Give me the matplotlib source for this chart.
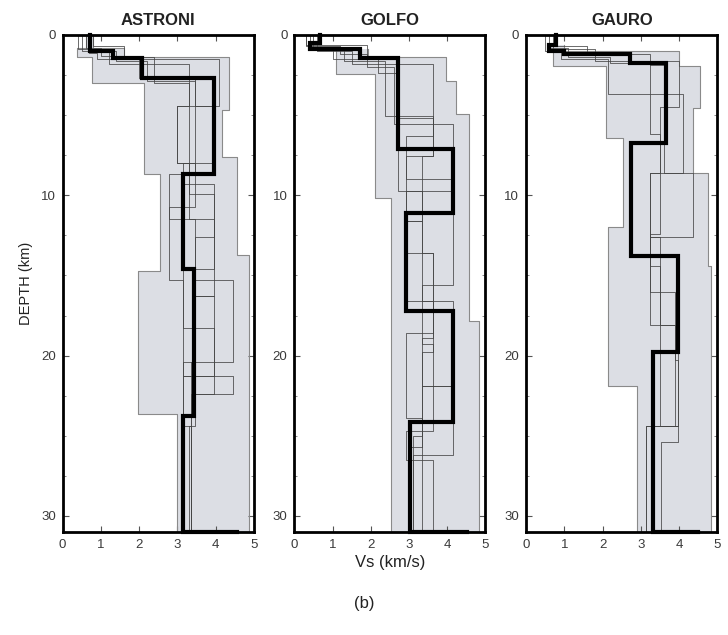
import numpy as np
import matplotlib.pyplot as plt
from matplotlib.ticker import MultipleLocator

plt.rcParams['font.family'] = ['Liberation Sans', 'DejaVu Sans']

# Vs profiles (km/s); each layer runs from its top depth
# down to the next top (last layer down to the bottom of the plot, 31 km)
max_depth = 31.0
sites = ['ASTRONI', 'GOLFO', 'GAURO']

# range of acceptable models (shaded band)
astroni_band_tops = [0.0, 0.8, 1.4, 3.0, 4.65, 7.6, 8.7, 13.7, 14.7, 23.65]
astroni_band_min = [0.6, 0.37, 0.76, 2.12, 2.12, 2.12, 2.55, 2.55, 1.97, 2.99]
astroni_band_max = [0.8, 1.6, 4.35, 4.35, 4.17, 4.57, 4.57, 4.87, 4.87, 4.87]

golfo_band_tops = [0.9, 1.4, 2.46, 2.88, 4.95, 10.15, 17.83]
golfo_band_min = [1.1, 1.1, 2.1, 2.1, 2.1, 2.54, 2.54]
golfo_band_max = [1.93, 3.97, 3.97, 4.23, 4.56, 4.56, 4.84]

gauro_band_tops = [0.6, 1.0, 1.94, 4.54, 6.4, 8.59, 12.0, 14.4, 21.9]
gauro_band_min = [0.55, 0.7, 2.09, 2.09, 2.53, 2.53, 2.14, 2.14, 2.9]
gauro_band_max = [1.0, 4.01, 4.54, 4.36, 4.36, 4.76, 4.76, 4.84, 4.84]

# best model (thick line) and half-space velocity
astroni_best_tops = [0.0, 1.0, 1.42, 2.67, 8.7, 14.6, 23.75]
astroni_best_vs = [0.72, 1.33, 2.07, 3.95, 3.16, 3.45, 3.16]
astroni_halfspace = 4.57

golfo_best_tops = [0.0, 0.49, 0.9, 1.42, 7.13, 11.08, 17.2, 24.16]
golfo_best_vs = [0.67, 0.41, 1.71, 2.71, 4.15, 2.93, 4.15, 3.02]
golfo_halfspace = 4.53

gauro_best_tops = [0.0, 0.65, 1.0, 1.21, 1.73, 6.72, 13.78, 19.8]
gauro_best_vs = [0.79, 0.6, 1.0, 2.71, 3.67, 2.75, 3.97, 3.33]
gauro_halfspace = 4.5

# other accepted models (thin lines)
astroni_models = [
    ([0, 0.8, 1.3, 2.7, 4.4, 8.0, 8.7, 11.5, 15.3, 20.4, 24.4],
     [0.6, 1.0, 2.0, 3.3, 3.0, 3.47, 2.77, 3.47, 4.47, 3.16, 3.36]),
    ([0, 1.0, 1.6, 2.9, 4.4, 8.0, 9.3, 14.6, 18.3, 22.4, 24.4],
     [0.5, 1.4, 2.2, 3.47, 3.95, 3.16, 3.95, 3.16, 3.95, 3.47, 3.3]),
    ([0, 0.7, 1.4, 3.0, 9.9, 12.6, 16.3, 21.3],
     [0.8, 1.6, 2.4, 3.3, 3.95, 3.47, 3.95, 3.16]),
    ([0, 0.9, 1.8, 2.6, 10.7, 15.3, 21.3, 22.4],
     [0.4, 1.2, 3.3, 3.47, 2.77, 3.16, 4.47, 3.36]),
    ([0, 1.1, 1.5, 4.4, 8.0, 11.5, 16.3, 20.4],
     [0.7, 0.9, 4.1, 3.0, 3.3, 3.95, 3.47, 3.36]),
]

golfo_models = [
    ([0, 0.9, 1.6, 5.05, 7.55, 11.6, 16.6, 21.9, 25.7],
     [0.4, 1.3, 2.37, 3.63, 2.93, 3.33, 4.15, 3.33, 3.02]),
    ([0, 0.7, 1.2, 2.0, 5.58, 9.73, 13.6, 18.6, 23.9],
     [0.3, 1.2, 1.9, 2.6, 4.15, 2.93, 3.63, 2.93, 3.33]),
    ([0, 1.0, 1.8, 6.3, 9.0, 15.6, 19.3, 24.7, 26.5],
     [0.6, 1.5, 3.63, 2.93, 4.15, 3.33, 3.63, 2.93, 3.63]),
    ([0, 0.8, 1.5, 5.16, 7.55, 13.6, 18.9, 21.9, 26.2],
     [0.5, 1.0, 2.71, 3.63, 3.33, 3.63, 3.33, 4.15, 3.1]),
    ([0, 0.6, 1.3, 2.4, 9.73, 11.6, 16.6, 19.8, 25.0],
     [0.3, 1.9, 2.2, 2.71, 3.33, 2.93, 3.63, 3.33, 3.1]),
]

gauro_models = [
    ([0, 0.8, 1.4, 1.73, 3.7, 8.6, 12.6, 18.1, 24.4],
     [0.6, 1.1, 2.2, 3.25, 4.1, 3.25, 3.49, 3.88, 3.14]),
    ([0, 0.7, 1.2, 1.9, 8.6, 12.6, 18.1, 24.4, 25.4],
     [0.8, 1.6, 3.25, 3.6, 4.36, 3.25, 3.49, 3.97, 3.53]),
    ([0, 1.0, 1.5, 3.7, 6.2, 12.4, 16.0, 20.3, 24.4],
     [0.5, 0.9, 2.14, 3.25, 3.49, 3.25, 3.88, 3.97, 3.3]),
    ([0, 0.9, 1.6, 4.5, 8.6, 14.4, 18.1, 24.4],
     [0.7, 1.8, 4.0, 3.49, 3.25, 3.49, 3.97, 3.14]),
]

bands = [
    (astroni_band_tops, astroni_band_min, astroni_band_max),
    (golfo_band_tops, golfo_band_min, golfo_band_max),
    (gauro_band_tops, gauro_band_min, gauro_band_max),
]
bests = [
    (astroni_best_tops, astroni_best_vs, astroni_halfspace),
    (golfo_best_tops, golfo_best_vs, golfo_halfspace),
    (gauro_best_tops, gauro_best_vs, gauro_halfspace),
]
others = [astroni_models, golfo_models, gauro_models]


def step_profile(tops, vs, bottom=max_depth):
    # turn layer tops + velocities into staircase coordinates
    x, y = [], []
    bots = list(tops[1:]) + [bottom]
    for t, b, v in zip(tops, bots, vs):
        x += [v, v]
        y += [t, b]
    return np.array(x), np.array(y)


fig = plt.figure(figsize=(7.28, 6.35), dpi=100)
lefts = [0.0861, 0.4043, 0.7229]
axes = [fig.add_axes([l, 0.1622, 0.2624, 0.7827]) for l in lefts]

for ax, name, band, best, models in zip(axes, sites, bands, bests, others):
    # shaded band
    xmin, yb = step_profile(band[0], band[1])
    xmax, _ = step_profile(band[0], band[2])
    ax.fill_betweenx(yb, xmin, xmax, color='#dcdee4', lw=0, zorder=1)
    ax.plot(xmin, yb, color='#8a8a8a', lw=0.8, zorder=2)
    ax.plot(xmax, yb, color='#8a8a8a', lw=0.8, zorder=2)

    # thin models
    for tops, vs in models:
        x, y = step_profile(tops, vs)
        ax.plot(x, y, color='#444444', lw=0.55, zorder=3)

    # best model plus jump to half-space at the bottom
    x, y = step_profile(best[0], best[1])
    x = np.append(x, best[2])
    y = np.append(y, max_depth)
    ax.plot(x, y, color='black', lw=3.0, zorder=5, clip_on=False,
            solid_joinstyle='miter')

    ax.set_xlim(0, 5)
    ax.set_ylim(max_depth, 0)
    ax.set_xticks([0, 1, 2, 3, 4, 5])
    ax.set_yticks([0, 10, 20, 30])
    ax.yaxis.set_minor_locator(MultipleLocator(2.5))
    ax.tick_params(which='both', direction='in', top=True, right=True,
                   labelsize=9.5, labelcolor='#3a3a3a', pad=5)
    ax.tick_params(which='major', length=4, width=0.8, color='#555555')
    ax.tick_params(which='minor', length=2, width=0.6, color='#777777')
    for sp in ax.spines.values():
        sp.set_linewidth(2.0)
        sp.set_zorder(6)
    ax.set_title(name, fontsize=12, fontweight='bold', pad=7,
                 color='#222222')

axes[0].set_ylabel('DEPTH (km)', fontsize=10.5, color='#222222', labelpad=6)
axes[1].set_xlabel('Vs (km/s)', fontsize=12, color='#222222', labelpad=3)
fig.text(0.5, 0.05, '(b)', ha='center', va='center', fontsize=12,
         color='#222222')

fig.savefig('out.png', dpi=100)
